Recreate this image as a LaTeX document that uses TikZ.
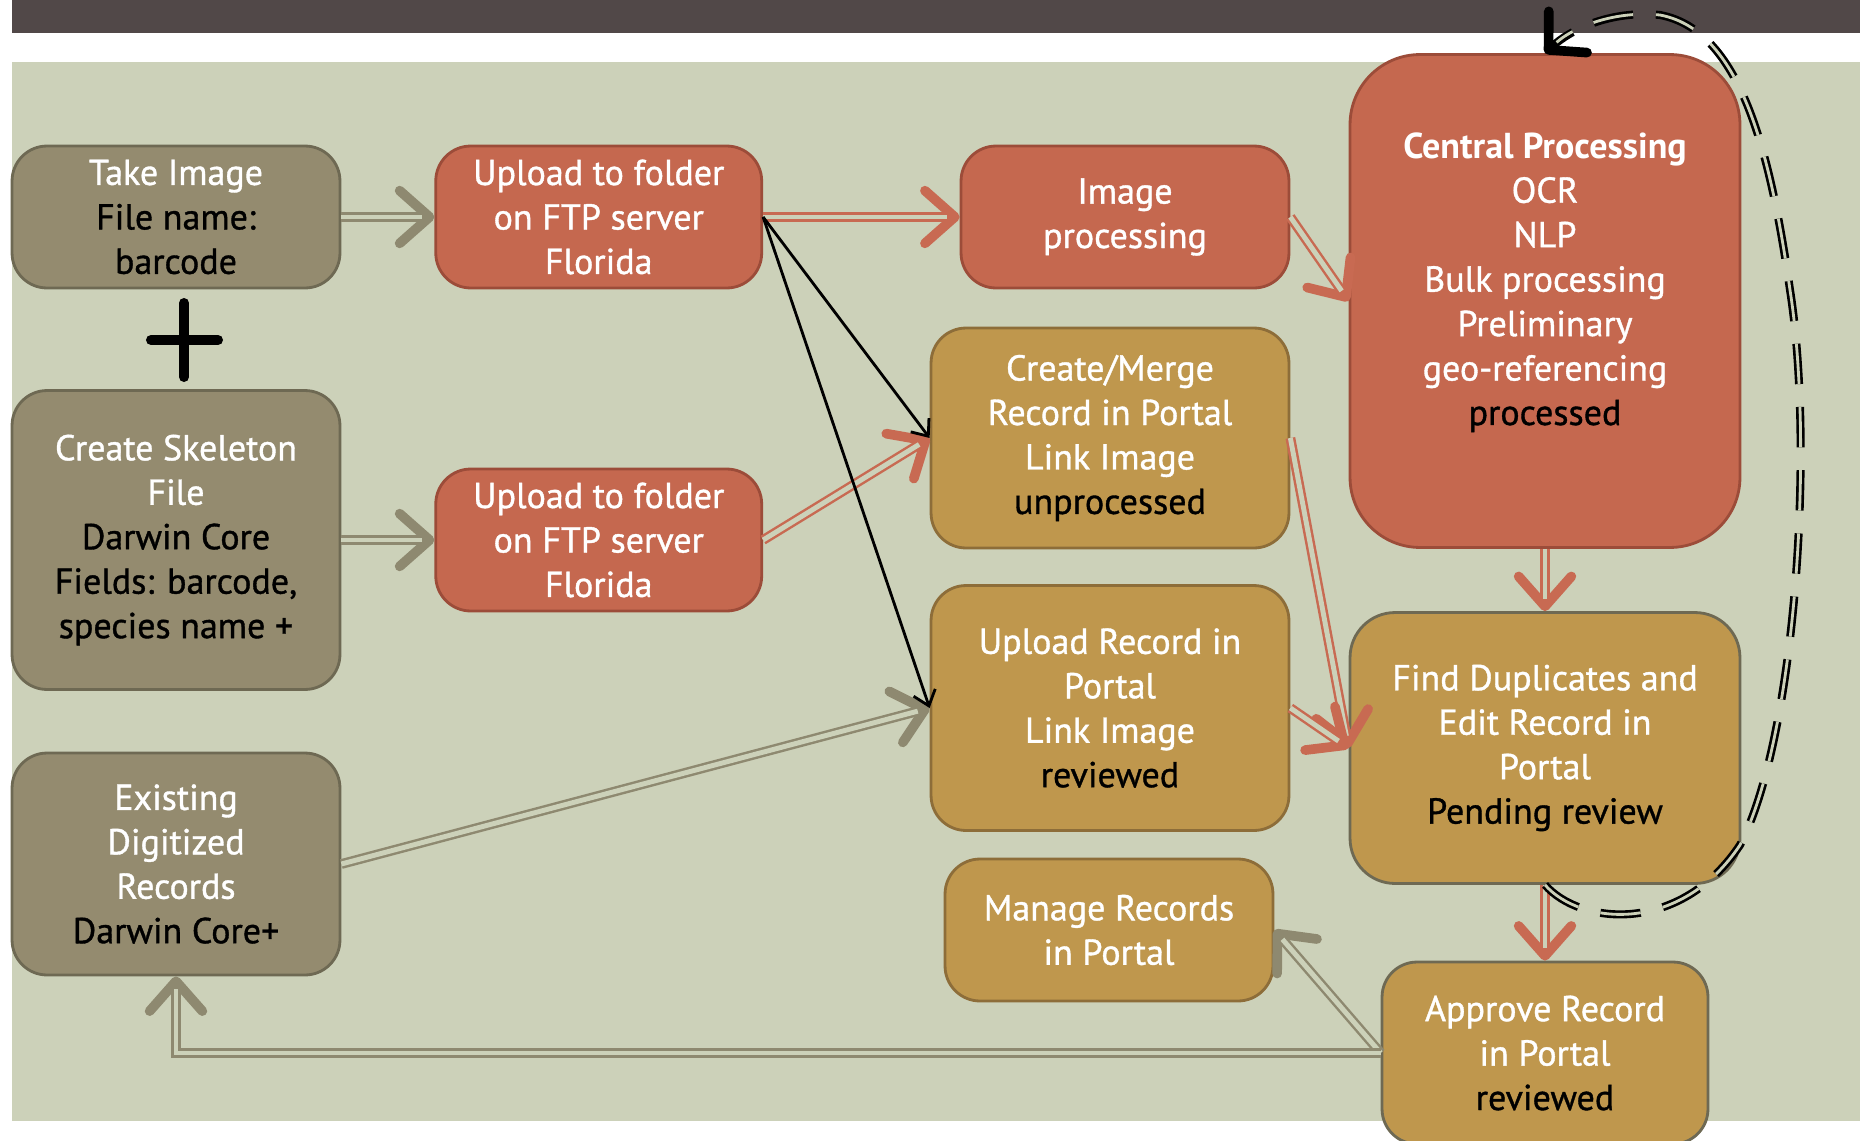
\documentclass[tikz,border=0pt]{standalone}
\usepackage{fontspec}
\setmainfont{PT Sans}[UprightFeatures={FakeBold=1.0}]
\usetikzlibrary{arrows.meta, positioning}

\definecolor{barcol}{HTML}{514848}
\definecolor{bggreen}{HTML}{CCD1B9}
\definecolor{khakifill}{HTML}{948B6F}
\definecolor{khakiedge}{HTML}{6E6953}
\definecolor{redfill}{HTML}{C5684F}
\definecolor{rededge}{HTML}{9C4C39}
\definecolor{goldfill}{HTML}{BF974D}
\definecolor{goldedge}{HTML}{8D6D39}
\definecolor{khakiline}{HTML}{8E8970}
\definecolor{redline}{HTML}{C86A52}

\tikzstyle{box} = [rectangle, draw, line width=1.6pt, rounded corners=0.7cm, align=center, text=white, font=\fontsize{20.5pt}{25.3pt}\selectfont]
\tikzstyle{input} = [box, fill=khakifill, draw=khakiedge, minimum width=6.56cm]
\tikzstyle{ftp} = [box, fill=redfill, draw=rededge]
\tikzstyle{portal} = [box, fill=goldfill, draw=goldedge]
\tikzstyle{gline} = [draw=khakiline, line width=5.6pt, -{Straight Barb[round, length=17pt, width=30pt, line width=5.5pt]}, postaction={draw=bggreen, line width=2.8pt, -, shorten >=7pt}]
\tikzstyle{rline} = [gline, draw=redline]
\tikzstyle{bline} = [draw=black, line width=1.6pt, -{Straight Barb[length=8pt, width=13pt]}]
\tikzstyle{loopline} = [draw=black, line width=4.6pt, dash pattern=on 23pt off 13pt, -{Straight Barb[round, length=15pt, width=32pt, line width=5.5pt]}, postaction={draw=bggreen, line width=1.6pt, -, shorten >=9pt, dash pattern=on 23pt off 13pt}]
\newcommand{\dark}[1]{\textcolor{black}{#1}}

\begin{document}
\begin{tikzpicture}[x=0.02cm, y=-0.02cm]
        \useasboundingbox (0,0) rectangle (1860,1140);
        \fill[white] (0,0) rectangle (1860,1140);
        \fill[barcol] (12,0) rectangle (1860,33);
        \fill[bggreen] (12,62) rectangle (1860,1121);

        % left column: inputs
        \node [input, minimum height=2.84cm] (takeimg) at (176,217) {Take Image\\\dark{File name:}\\\dark{barcode}};
        \node [input, minimum height=5.98cm] (skeleton) at (176,540) {Create Skeleton\\File\\\dark{Darwin Core}\\\dark{Fields: barcode,}\\\dark{species name +}};
        \node [input, minimum height=4.44cm] (existing) at (176,864) {Existing\\Digitized\\Records\\\dark{Darwin Core+}};
        \draw [line width=5.7pt, line cap=round] (151,340) -- (218,340) (184,303) -- (184,377);

        % FTP uploads
        \node [ftp, minimum width=6.52cm, minimum height=2.84cm, right=1.86cm of takeimg] (ftpA) {Upload to folder\\on FTP server\\Florida};
        \node [ftp, minimum width=6.52cm, minimum height=2.84cm, right=1.86cm of skeleton] (ftpB) {Upload to folder\\on FTP server\\Florida};

        % portal
        \node [ftp, minimum width=6.56cm, minimum height=2.84cm] (imgproc) at (1125,217) {Image\\processing};
        \node [portal, minimum width=7.16cm, minimum height=4.4cm] (merge) at (1110,438) {Create/Merge\\Record in Portal\\Link Image\\\dark{unprocessed}};
        \node [portal, minimum width=7.16cm, minimum height=4.9cm] (upload) at (1110,708) {Upload Record in\\Portal\\Link Image\\\dark{reviewed}};
        \node [portal, minimum width=6.56cm, minimum height=2.84cm] (manage) at (1109,930) {Manage Records\\in Portal};
        \node [ftp, minimum width=7.8cm, minimum height=9.86cm, rounded corners=1.4cm] (central) at (1545,301) {\textbf{Central Processing}\\OCR\\NLP\\Bulk processing\\Preliminary\\geo-referencing\\\dark{processed}\\\mbox{}};
        \node [portal, draw=khakiedge, minimum width=7.8cm, minimum height=5.42cm, rounded corners=0.9cm] (finddup) at (1545,748) {Find Duplicates and\\Edit Record in\\Portal\\\dark{Pending review}};
        \node [portal, draw=khakiedge, minimum width=6.52cm, minimum height=3.64cm] (approve) at (1545,1053) {Approve Record\\in Portal\\\dark{reviewed}};

        \path [gline] (takeimg) -- (ftpA);
        \path [gline] (skeleton) -- (ftpB);
        \path [gline] (existing.east) -- (upload.west);
        \path [rline] (ftpA) -- (imgproc);
        \path [rline] (imgproc.east) -- (central.west);
        \path [rline] (ftpB.east) -- (merge.west);
        \path [bline] (ftpA.east) -- (merge.west);
        \path [bline] (ftpA.east) -- (upload.west);
        \path [rline] (merge.east) -- (finddup.west);
        \path [rline] (upload.east) -- (finddup.west);
        \path [rline] (central) -- (finddup);
        \path [rline] (finddup) -- (approve);
        \path [gline] (approve.west) -- (manage.east);
        \path [gline] (approve.west) -| (existing.south);
        \path [loopline] (finddup.south) .. controls (1580,925) and (1680,935) .. (1740,845)
              .. controls (1795,740) and (1815,450) .. (1790,290)
              .. controls (1770,150) and (1740,30) .. (1660,15)
              .. controls (1610,10) and (1570,30) .. (central.north); % review loop
    \end{tikzpicture}
\end{document}
